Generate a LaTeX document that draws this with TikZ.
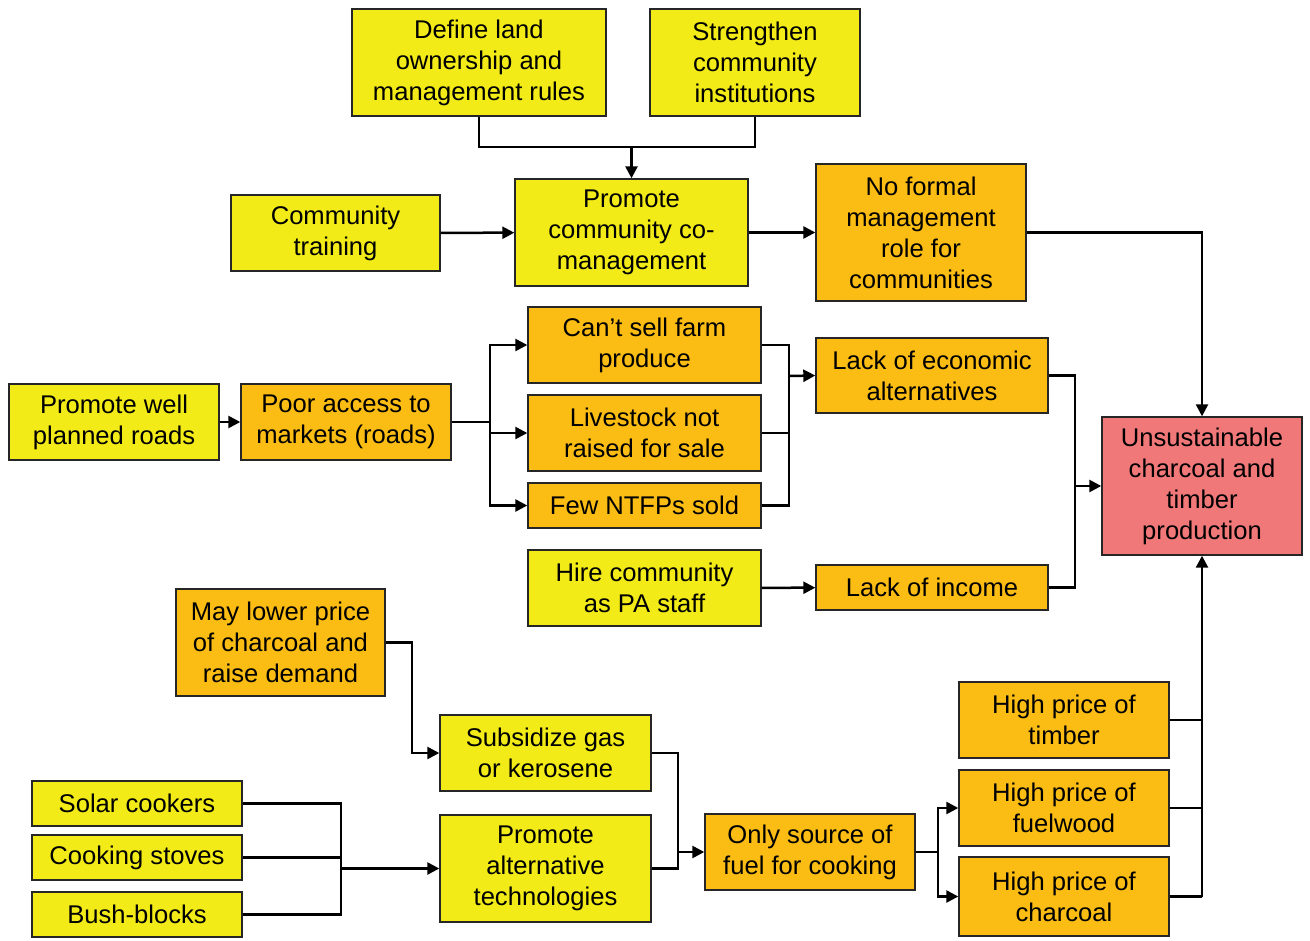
\documentclass[tikz,border=0pt]{standalone}
\usepackage{fontspec}
\setmainfont{Liberation Sans}
\usetikzlibrary{arrows.meta}
\definecolor{yel}{RGB}{242,235,23}
\definecolor{org}{RGB}{251,189,20}
\definecolor{redbox}{RGB}{240,120,121}
\begin{document}
\begin{tikzpicture}[x=0.5pt,y=-0.5pt,
    box/.style={draw=black!85,line width=0.7pt,inner sep=0pt,align=center,
        font=\fontsize{12.8}{15.5}\selectfont},
    yelbox/.style={box,fill=yel},
    orgbox/.style={box,fill=org},
    redbx/.style={box,fill=redbox},
    line/.style={line width=1.25pt},
    arr/.style={line,-{Triangle[length=6pt,width=6pt]}}]
    \useasboundingbox (0,0) rectangle (1310,941);

    % top row
    \node[yelbox,minimum width=127pt,minimum height=53.5pt] (define) at (479,62.5) {Define land\\ownership and\\management rules};
    \node[yelbox,minimum width=105pt,minimum height=53.5pt] (strength) at (755,62.5) {Strengthen\\community\\institutions};
    \node[yelbox,minimum width=104.5pt,minimum height=38pt] (train) at (335.5,233) {Community\\training};
    \node[yelbox,minimum width=116.5pt,minimum height=53.5pt] (comgt) at (631.5,232.5) {Promote\\community co-\\management};
    \node[orgbox,minimum width=105pt,minimum height=68.5pt] (noformal) at (921,232.5) {No formal\\management\\role for\\communities};

    % markets
    \node[yelbox,minimum width=105pt,minimum height=38pt] (roadsp) at (114,422) {Promote well\\planned roads};
    \node[orgbox,minimum width=105pt,minimum height=38pt] (access) at (346,422) {Poor access to\\markets (roads)};
    \node[orgbox,minimum width=116.5pt,minimum height=38pt] (cant) at (644.5,345) {Can’t sell farm\\produce};
    \node[orgbox,minimum width=116.5pt,minimum height=38pt] (livestock) at (644.5,433) {Livestock not\\raised for sale};
    \node[orgbox,minimum width=116.5pt,minimum height=22.5pt] (few) at (644.5,505.5) {Few NTFPs sold};
    \node[orgbox,minimum width=116pt,minimum height=37.5pt] (econ) at (932,375.5) {Lack of economic\\alternatives};
    \node[yelbox,minimum width=116.5pt,minimum height=38pt] (hire) at (644.5,588) {Hire community\\as PA staff};
    \node[orgbox,minimum width=116pt,minimum height=22.5pt] (income) at (932,587.5) {Lack of income};
    \node[redbx,minimum width=100pt,minimum height=69pt] (unsust) at (1202,486) {Unsustainable\\charcoal and\\timber\\production};

    % fuel
    \node[orgbox,minimum width=104.5pt,minimum height=53.5pt] (lower) at (280.5,642.5) {May lower price\\of charcoal and\\raise demand};
    \node[yelbox,minimum width=105.5pt,minimum height=38pt] (subsid) at (545.5,753) {Subsidize gas\\or kerosene};
    \node[yelbox,minimum width=105pt,minimum height=22.5pt] (solar) at (137,803.5) {Solar cookers};
    \node[yelbox,minimum width=105pt,minimum height=22.5pt] (stoves) at (137,857.5) {Cooking stoves};
    \node[yelbox,minimum width=105pt,minimum height=22.5pt] (bush) at (137,914.5) {Bush-blocks};
    \node[yelbox,minimum width=105.5pt,minimum height=53.5pt] (alttech) at (545.5,868.5) {Promote\\alternative\\technologies};
    \node[orgbox,minimum width=105pt,minimum height=38pt] (onlysrc) at (810,852) {Only source of\\fuel for cooking};
    \node[orgbox,minimum width=105pt,minimum height=38pt] (timber) at (1064,720) {High price of\\timber};
    \node[orgbox,minimum width=105pt,minimum height=38pt] (fuelwood) at (1064,808) {High price of\\fuelwood};
    \node[orgbox,minimum width=105pt,minimum height=39.5pt] (charcoal) at (1064,896.5) {High price of\\charcoal};

    % junctions
    \coordinate (jtop) at (631.5,147);
    \coordinate (jacc) at (490,422);
    \coordinate (jsell) at (789,376);
    \coordinate (jecon) at (1075,486);
    \coordinate (jlow) at (412,642.5);
    \coordinate (jfuel) at (678,852);
    \coordinate (jcook) at (341,868.5);
    \coordinate (jsrc) at (938,852);
    \coordinate (jprice) at (1202,896.5);

    \draw[line] (define.south) |- (jtop) -| (strength.south);
    \draw[arr] (jtop) -- (comgt.north);
    \draw[arr] (train) -- (comgt);
    \draw[arr] (comgt) -- (noformal);
    \draw[arr] (noformal.east) -| (unsust.north);

    \draw[arr] (roadsp) -- (access);
    \draw[line] (access.east) -- (jacc);
    \draw[arr] (jacc) |- (cant.west);
    \draw[arr] (jacc) |- (livestock.west);
    \draw[arr] (jacc) |- (few.west);
    \draw[line] (cant.east) -| (jsell);
    \draw[line] (livestock.east) -| (jsell);
    \draw[line] (few.east) -| (jsell);
    \draw[arr] (jsell) -- (econ.west);
    \draw[arr] (hire) -- (income);
    \draw[line] (econ.east) -| (jecon);
    \draw[line] (income.east) -| (jecon);
    \draw[arr] (jecon) -- (unsust.west);

    \draw[arr] (lower.east) -- (jlow) |- (subsid.west);
    \draw[line] (solar.east) -| (jcook);
    \draw[line] (stoves.east) -| (jcook);
    \draw[line] (bush.east) -| (jcook);
    \draw[arr] (jcook) -- (alttech.west);
    \draw[line] (subsid.east) -| (jfuel);
    \draw[line] (alttech.east) -| (jfuel);
    \draw[arr] (jfuel) -- (onlysrc.west);
    \draw[line] (onlysrc.east) -- (jsrc);
    \draw[arr] (jsrc) |- (fuelwood.west);
    \draw[arr] (jsrc) |- (charcoal.west);
    \draw[line] (timber.east) -| (jprice);
    \draw[line] (fuelwood.east) -| (jprice);
    \draw[line] (charcoal.east) -- (jprice);
    \draw[arr] (jprice) -- (unsust.south);
\end{tikzpicture}
\end{document}
